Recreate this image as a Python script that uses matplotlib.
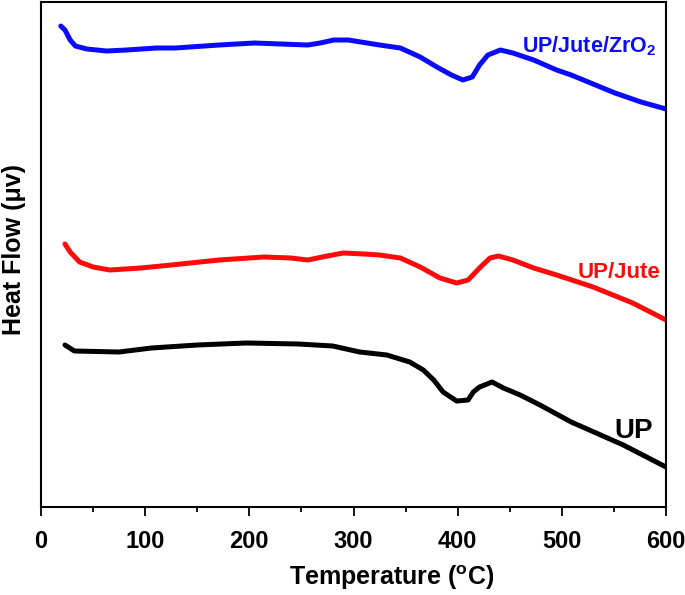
import numpy as np
import matplotlib.pyplot as plt

# DSC curves (heat flow in arbitrary units)
temp_zro2 = [19, 23, 28, 33, 44, 63, 82, 111, 129, 171, 205, 230, 256, 268, 281,
             295, 307, 325, 345, 364, 380, 394, 405, 414, 421, 429, 441, 453,
             473, 495, 509, 530, 551, 576, 600]
hf_zro2 = [481, 477, 467, 461, 458, 456, 457, 459, 459, 462, 464, 463, 462, 464,
           467, 467, 465, 462, 459, 450, 440, 432, 427, 430, 442, 452, 457, 454,
           447, 437, 432, 423, 414, 405, 398]

temp_jute = [23, 28, 37, 50, 66, 96, 125, 171, 214, 240, 256, 270, 290, 310,
             325, 345, 364, 383, 399, 410, 421, 431, 439, 453, 473, 495, 530,
             568, 600]
hf_jute = [263, 255, 245, 240, 237, 239, 242, 247, 250, 249, 247, 250, 254, 253,
           252, 249, 240, 229, 224, 227, 239, 249, 251, 247, 239, 232, 220,
           204, 187]

temp_up = [23, 32, 75, 106, 150, 197, 247, 280, 306, 332, 354, 367, 377, 386,
           399, 410, 415, 421, 433, 444, 460, 479, 509, 559, 600]
hf_up = [162, 156, 155, 159, 162, 164, 163, 161, 155, 152, 145, 137, 127, 115,
         106, 107, 115, 120, 125, 119, 112, 102, 85, 62, 40]

font = ['Liberation Sans', 'DejaVu Sans']

fig = plt.figure(figsize=(6.85, 5.95), dpi=100)
ax = fig.add_axes([41 / 685, 88 / 595, 625 / 685, 505 / 595])

kw = dict(lw=3.6, solid_capstyle='round', solid_joinstyle='round')
ax.plot(temp_zro2, hf_zro2, color='#0a0aff', **kw)
ax.plot(temp_jute, hf_jute, color='#ff0a0a', **kw)
ax.plot(temp_up, hf_up, color='black', **kw)

ax.text(462, 455, r'UP/Jute/ZrO$_\mathregular{2}$', color='#0a0aff',
        fontsize=15.5, fontweight='bold', family=font, va='baseline')
ax.text(515, 229, 'UP/Jute', color='#ff0a0a', fontsize=16,
        fontweight='bold', family=font, va='baseline')
ax.text(550, 69, 'UP', color='black', fontsize=20, fontweight='bold',
        family=font, va='baseline')

ax.set_xlim(0, 600)
ax.set_ylim(0, 505)
ax.set_xticks(np.arange(0, 601, 100))
ax.set_xticks(np.arange(50, 600, 100), minor=True)
ax.set_yticks([])
ax.tick_params(axis='x', which='major', length=6.5, width=1.3, pad=10,
               labelsize=17)
ax.tick_params(axis='x', which='minor', length=3.5, width=1.3)
for lab in ax.get_xticklabels():
    lab.set_fontweight('bold')
    lab.set_family(font)
for sp in ax.spines.values():
    sp.set_linewidth(1.5)

fig.text(392 / 685, 1 - 578 / 595, r'Temperature ($\mathregular{^o}$C)',
         fontsize=18, fontweight='bold', family=font, ha='center', va='center')
fig.text(14 / 685, 1 - 249 / 595, 'Heat Flow (μv)', fontsize=18,
         fontweight='bold', family=font, rotation=90, ha='center', va='center')

fig.savefig('out.png', dpi=100)
